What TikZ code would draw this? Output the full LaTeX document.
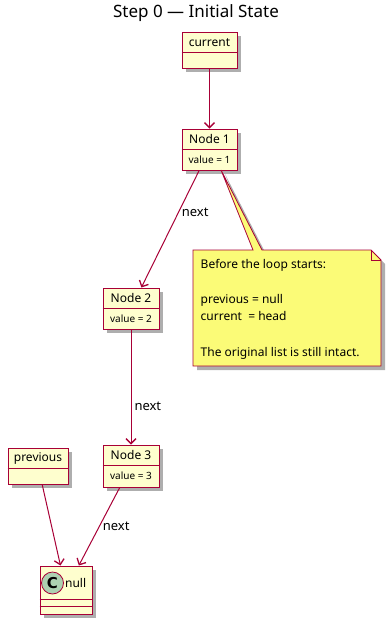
\documentclass[tikz,border=0pt]{standalone}
\usepackage{fontspec}
\setmainfont{Noto Sans}
\newfontfamily\spotfont{DejaVu Sans}
\usetikzlibrary{positioning,shadows,arrows.meta}
\definecolor{umlfill}{HTML}{FEFECE}
\definecolor{umlline}{HTML}{A80036}
\definecolor{notefill}{HTML}{FBFB77}
\definecolor{spotfill}{HTML}{ADD1B2}
\begin{document}
\begin{tikzpicture}[
    x=1pt, y=-1pt,
    shade/.style={drop shadow={shadow xshift=4pt, shadow yshift=-4pt,
                  fill=black!70, opacity=0.45}},
    cls/.style={rectangle, draw=umlline, fill=umlfill, line width=1pt,
                inner sep=0pt, shade},
    hdr/.style={inner sep=0pt, minimum height=21, font=\fontsize{12}{14}\selectfont},
    val/.style={inner sep=0pt, minimum height=20, font=\fontsize{10}{12}\selectfont},
    sep/.style={draw=umlline, line width=1pt},
    arr/.style={-{Straight Barb[length=5pt, width=10pt, line width=1.3pt]},
                umlline, line width=1pt},
    lbl/.style={font=\fontsize{13}{15}\selectfont, inner sep=3pt, text=black},
]
\useasboundingbox (0,0) rectangle (391,624);

% Title
\node[font=\fontsize{17}{20}\selectfont] (title) at (196,13) {Step 0 — Initial State};

% Pointers (header only, empty body)
\node[cls, minimum width=55, minimum height=36] (cur) at (209.5,50) {};
\node[hdr, below=0pt of cur.north] (curH) {current};
\draw[sep] (curH.south -| cur.west) -- (curH.south -| cur.east);

\node[cls, minimum width=60, minimum height=36] (prev) at (38,466) {};
\node[hdr, below=0pt of prev.north] (prevH) {previous};
\draw[sep] (prevH.south -| prev.west) -- (prevH.south -| prev.east);

% List nodes
\node[cls, minimum width=55, minimum height=41] (n1) at (209.5,149.5) {};
\node[hdr, below=0pt of n1.north] (n1H) {Node 1};
\node[val, below=0pt of n1H] (n1V) {value = 1};
\draw[sep] (n1H.south -| n1.west) -- (n1H.south -| n1.east);

\node[cls, minimum width=56, minimum height=41] (n2) at (131,308.5) {};
\node[hdr, below=0pt of n2.north] (n2H) {Node 2};
\node[val, below=0pt of n2H] (n2V) {value = 2};
\draw[sep] (n2H.south -| n2.west) -- (n2H.south -| n2.east);

\node[cls, minimum width=56, minimum height=42] (n3) at (131,466) {};
\node[hdr, below=0pt of n3.north] (n3H) {Node 3};
\node[val, below=0pt of n3H] (n3V) {value = 3};
\draw[sep] (n3H.south -| n3.west) -- (n3H.south -| n3.east);

% null class with spot
\node[cls, minimum width=52, minimum height=48] (nul) at (66,590) {};
\node[circle, draw=umlline, fill=spotfill, line width=0.8pt, minimum size=22,
      inner sep=0pt, font=\spotfont\bfseries\fontsize{15}{17}\selectfont] (nulC) at (52.5,583) {C};
\node[hdr, right=1pt of nulC] (nulH) {null};
\draw[sep] (nul.west |- 0,599) -- (nul.east |- 0,599);
\draw[sep] (nul.west |- 0,606) -- (nul.east |- 0,606);

% Note with tail pointing at Node 1
\draw[umlline, fill=notefill, line width=0.8pt, shade]
  (193,250) -- (253,250) -- (221,170) -- (262,250) -- (371,250) -- (381,260)
  -- (381,366) -- (193,366) -- cycle;
\draw[umlline, line width=0.8pt] (371,250) -- (371,260) -- (381,260);
\node[anchor=west, align=left, inner sep=0pt,
      font=\fontsize{12}{17.6}\selectfont] (noteT) at (200.5,309)
  {Before the loop starts:\\ \strut\\ previous = null\\ current\ \ = head\\ \strut\\
   The original list is still intact.};

% Links
\draw[arr] (cur) -- (n1);
\draw[arr] (n1) -- node[lbl, right, pos=0.36] {next} (n2);
\draw[arr] (n2) -- node[lbl, right, pos=0.67] {next} (n3);
\draw[arr] (prev) -- (nul);
\draw[arr] (n3) -- node[lbl, right, pos=0.5] {next} (nul);
\end{tikzpicture}
\end{document}
